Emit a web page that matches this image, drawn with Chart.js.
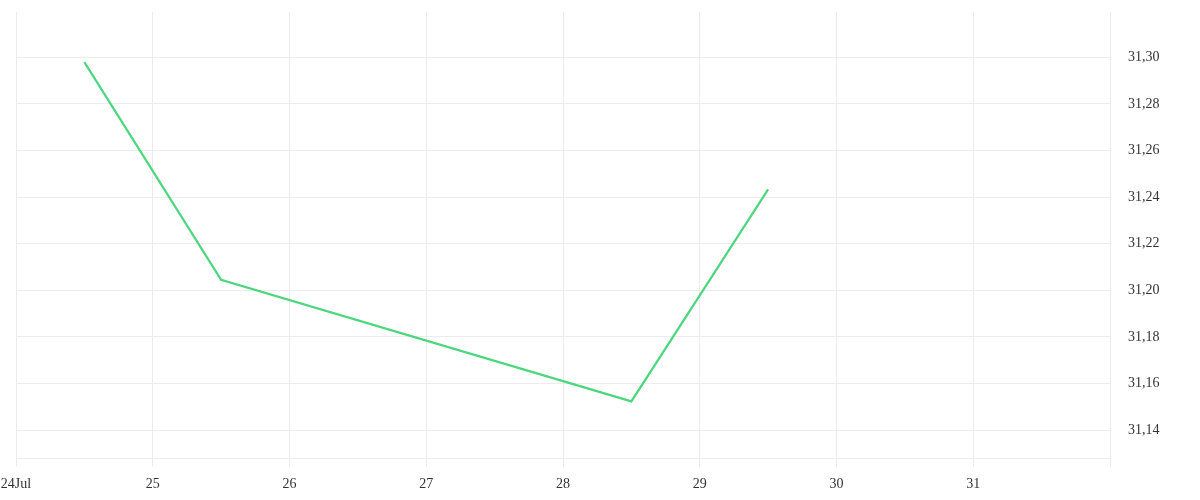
<!DOCTYPE html>
<html>
<head>
<meta charset="utf-8">
<script src="https://cdn.jsdelivr.net/npm/chart.js@4"></script>
<style>
  html, body { margin: 0; padding: 0; background: #fff; }
  #wrap { width: 1200px; height: 500px; }
</style>
</head>
<body>
<div id="wrap"><canvas id="myChart"></canvas></div>
<script>
// days in July (x.5 = midday)
const days = [24.5, 25.5, 28.5, 29.5];
const prices = [31.298, 31.2045, 31.1523, 31.2433];
const dayTicks = [24, 25, 26, 27, 28, 29, 30, 31, 32];
const dayLabels = ['24Jul', '25', '26', '27', '28', '29', '30', '31', ''];

Chart.defaults.font.family = "'Liberation Serif', 'DejaVu Serif', serif";
Chart.defaults.font.size = 14;
Chart.defaults.color = '#333';

var ctx = document.getElementById('myChart').getContext('2d');
var chart = new Chart(ctx, {
    type: 'line',
    data: {
        datasets: [{
            label: 'Price',
            data: days.map((d, i) => ({x: d, y: prices[i]})),
            borderColor: '#4cd67e',
            borderWidth: 2.2,
            pointRadius: 0,
            tension: 0,
            fill: false
        }]
    },
    options: {
        responsive: true,
        maintainAspectRatio: false,
        animation: false,
        layout: { padding: 0 },
        plugins: {
            legend: { display: false },
            tooltip: { enabled: false }
        },
        scales: {
            x: {
                type: 'linear',
                min: 24,
                max: 32,
                afterBuildTicks: (scale) => {
                    scale.ticks = dayTicks.map(v => ({value: v}));
                },
                afterFit: (scale) => {
                    scale.height = 42;
                    scale.paddingLeft = 16;
                    scale.paddingRight = 0;
                },
                ticks: {
                    autoSkip: false,
                    maxRotation: 0,
                    padding: 9,
                    callback: (v) => dayLabels[dayTicks.indexOf(v)]
                },
                grid: { color: '#ececec', tickLength: 9 },
                border: { color: '#ececec' }
            },
            y: {
                position: 'right',
                min: 31.128,
                max: 31.3195,
                afterFit: (scale) => {
                    scale.width = 90;
                    scale.paddingTop = 12;
                    scale.paddingBottom = 0;
                },
                ticks: {
                    stepSize: 0.02,
                    includeBounds: false,
                    padding: 18,
                    callback: (v) => v.toFixed(2).replace('.', ',')
                },
                grid: { color: '#ececec', drawTicks: false },
                border: { color: '#ececec' }
            }
        }
    }
});
</script>
</body>
</html>
